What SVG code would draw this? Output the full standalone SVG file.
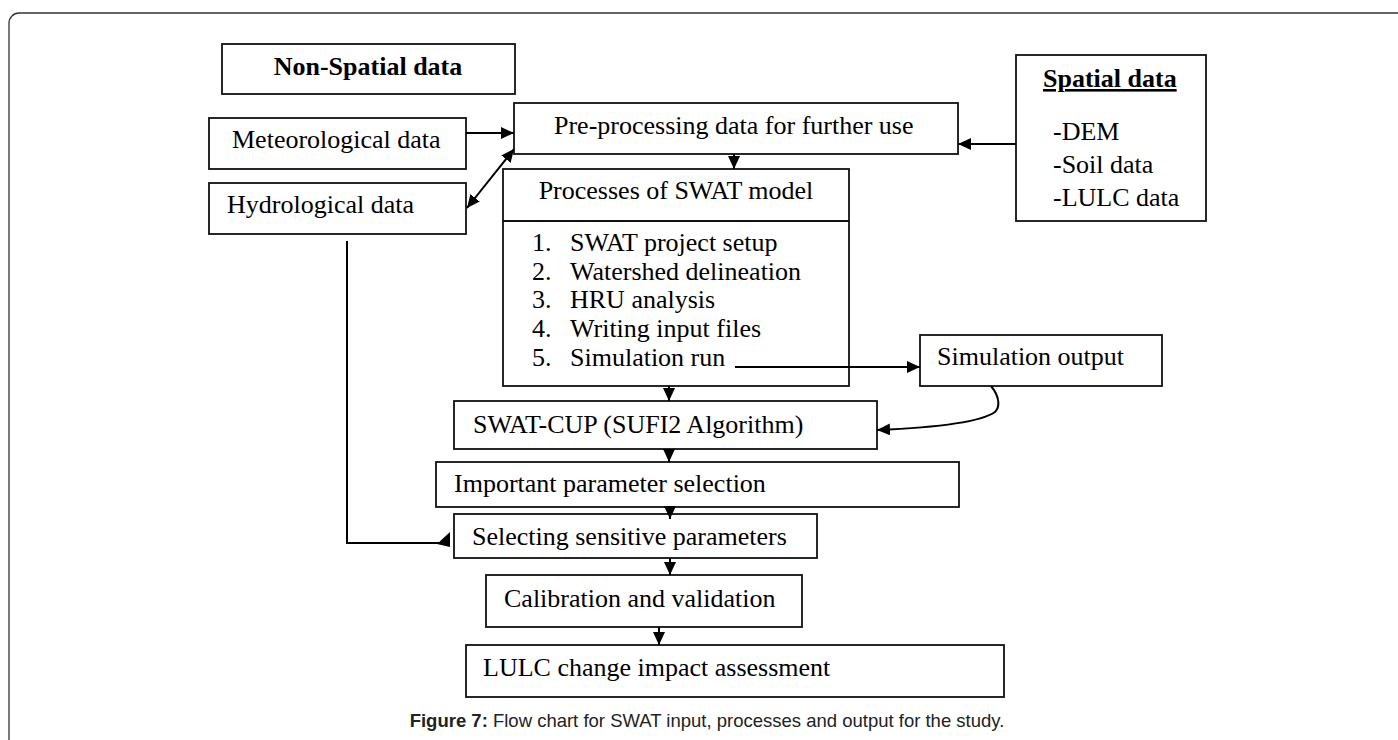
<svg xmlns="http://www.w3.org/2000/svg" width="1398" height="740" viewBox="0 0 1398 740">
<style>
.box{fill:#fff;stroke:#111;stroke-width:1.8}
.t{font-family:"Liberation Serif","Times New Roman",serif;font-size:26px;fill:#000}
.b{font-weight:bold}
.c{fill:none;stroke:#000;stroke-width:2}
.cap{font-family:"Liberation Sans",Arial,sans-serif;font-size:18.5px;fill:#222}
</style>
<defs>
<marker id="ah" markerUnits="userSpaceOnUse" markerWidth="13" markerHeight="12" refX="13" refY="6" orient="auto-start-reverse">
<path d="M0,0 L13,6 L0,12 z" fill="#000"/>
</marker>
</defs>
<rect width="1398" height="740" fill="#fff"/>
<path d="M 9 740 V 23 A 10 10 0 0 1 19 13 H 1398" fill="none" stroke="#333" stroke-width="1.3"/>

<g id="non-spatial">
<rect class="box" x="222" y="44" width="293" height="50"/>
<text class="t b" x="368" y="75" text-anchor="middle">Non-Spatial data</text>
</g>
<g id="meteorological">
<rect class="box" x="209" y="118" width="257" height="51"/>
<text class="t" x="232" y="148">Meteorological data</text>
</g>
<g id="hydrological">
<rect class="box" x="209" y="183" width="257" height="51"/>
<text class="t" x="227" y="213">Hydrological data</text>
</g>
<g id="preprocessing">
<rect class="box" x="514" y="103" width="444" height="51"/>
<text class="t" x="554" y="134">Pre-processing data for further use</text>
</g>
<g id="spatial">
<rect class="box" x="1016" y="55" width="190" height="166"/>
<text class="t b" x="1043" y="87" text-decoration="underline">Spatial data</text>
<text class="t" x="1053" y="140">-DEM</text>
<text class="t" x="1053" y="173">-Soil data</text>
<text class="t" x="1053" y="206">-LULC data</text>
</g>
<g id="processes">
<rect class="box" x="503" y="169" width="346" height="217"/>
<line x1="503" y1="221" x2="849" y2="221" stroke="#111" stroke-width="1.8"/>
<text class="t" x="676" y="199" text-anchor="middle">Processes of SWAT model</text>
<text class="t" x="532" y="251">1.</text><text class="t" x="570" y="251">SWAT project setup</text>
<text class="t" x="532" y="280">2.</text><text class="t" x="570" y="280">Watershed delineation</text>
<text class="t" x="532" y="308">3.</text><text class="t" x="570" y="308">HRU analysis</text>
<text class="t" x="532" y="337">4.</text><text class="t" x="570" y="337">Writing input files</text>
<text class="t" x="532" y="366">5.</text><text class="t" x="570" y="366">Simulation run</text>
</g>
<g id="simulation-output">
<rect class="box" x="920" y="335" width="242" height="51"/>
<text class="t" x="937" y="365">Simulation output</text>
</g>
<g id="swat-cup">
<rect class="box" x="454" y="401" width="423" height="48"/>
<text class="t" x="473" y="433">SWAT-CUP (SUFI2 Algorithm)</text>
</g>
<g id="important">
<rect class="box" x="436" y="462" width="523" height="45"/>
<text class="t" x="454" y="492">Important parameter selection</text>
</g>
<g id="selecting">
<rect class="box" x="454" y="514" width="363" height="44"/>
<text class="t" x="472" y="545">Selecting sensitive parameters</text>
</g>
<g id="calibration">
<rect class="box" x="486" y="575" width="316" height="52"/>
<text class="t" x="504" y="607">Calibration and validation</text>
</g>
<g id="lulc">
<rect class="box" x="466" y="645" width="538" height="52"/>
<text class="t" x="483" y="676">LULC change impact assessment</text>
</g>

<g id="connectors">
<path class="c" d="M 466 133 H 514" marker-end="url(#ah)"/>
<path class="c" d="M 467 208 L 514 149" marker-start="url(#ah)" marker-end="url(#ah)"/>
<path class="c" d="M 1016 144 H 958" marker-end="url(#ah)"/>
<path class="c" d="M 734 154 V 169" marker-end="url(#ah)"/>
<path class="c" d="M 735 367 H 920" marker-end="url(#ah)"/>
<path class="c" d="M 991 386 C 1000 397 1000 407 995 412 C 978 424 925 428 877 430" marker-end="url(#ah)"/>
<path class="c" d="M 669 386 V 401" marker-end="url(#ah)"/>
<path class="c" d="M 669 449 V 462" marker-end="url(#ah)"/>
<path class="c" d="M 670 507 V 519" marker-end="url(#ah)"/>
<path class="c" d="M 670 558 V 575" marker-end="url(#ah)"/>
<path class="c" d="M 659 627 V 645" marker-end="url(#ah)"/>
<path class="c" d="M 347 241 V 543 H 440"/>
<polygon points="437,544 450,532 450,547" fill="#000"/>
</g>

<text class="cap" x="707" y="727" text-anchor="middle"><tspan font-weight="bold">Figure 7:</tspan> Flow chart for SWAT input, processes and output for the study.</text>
</svg>
